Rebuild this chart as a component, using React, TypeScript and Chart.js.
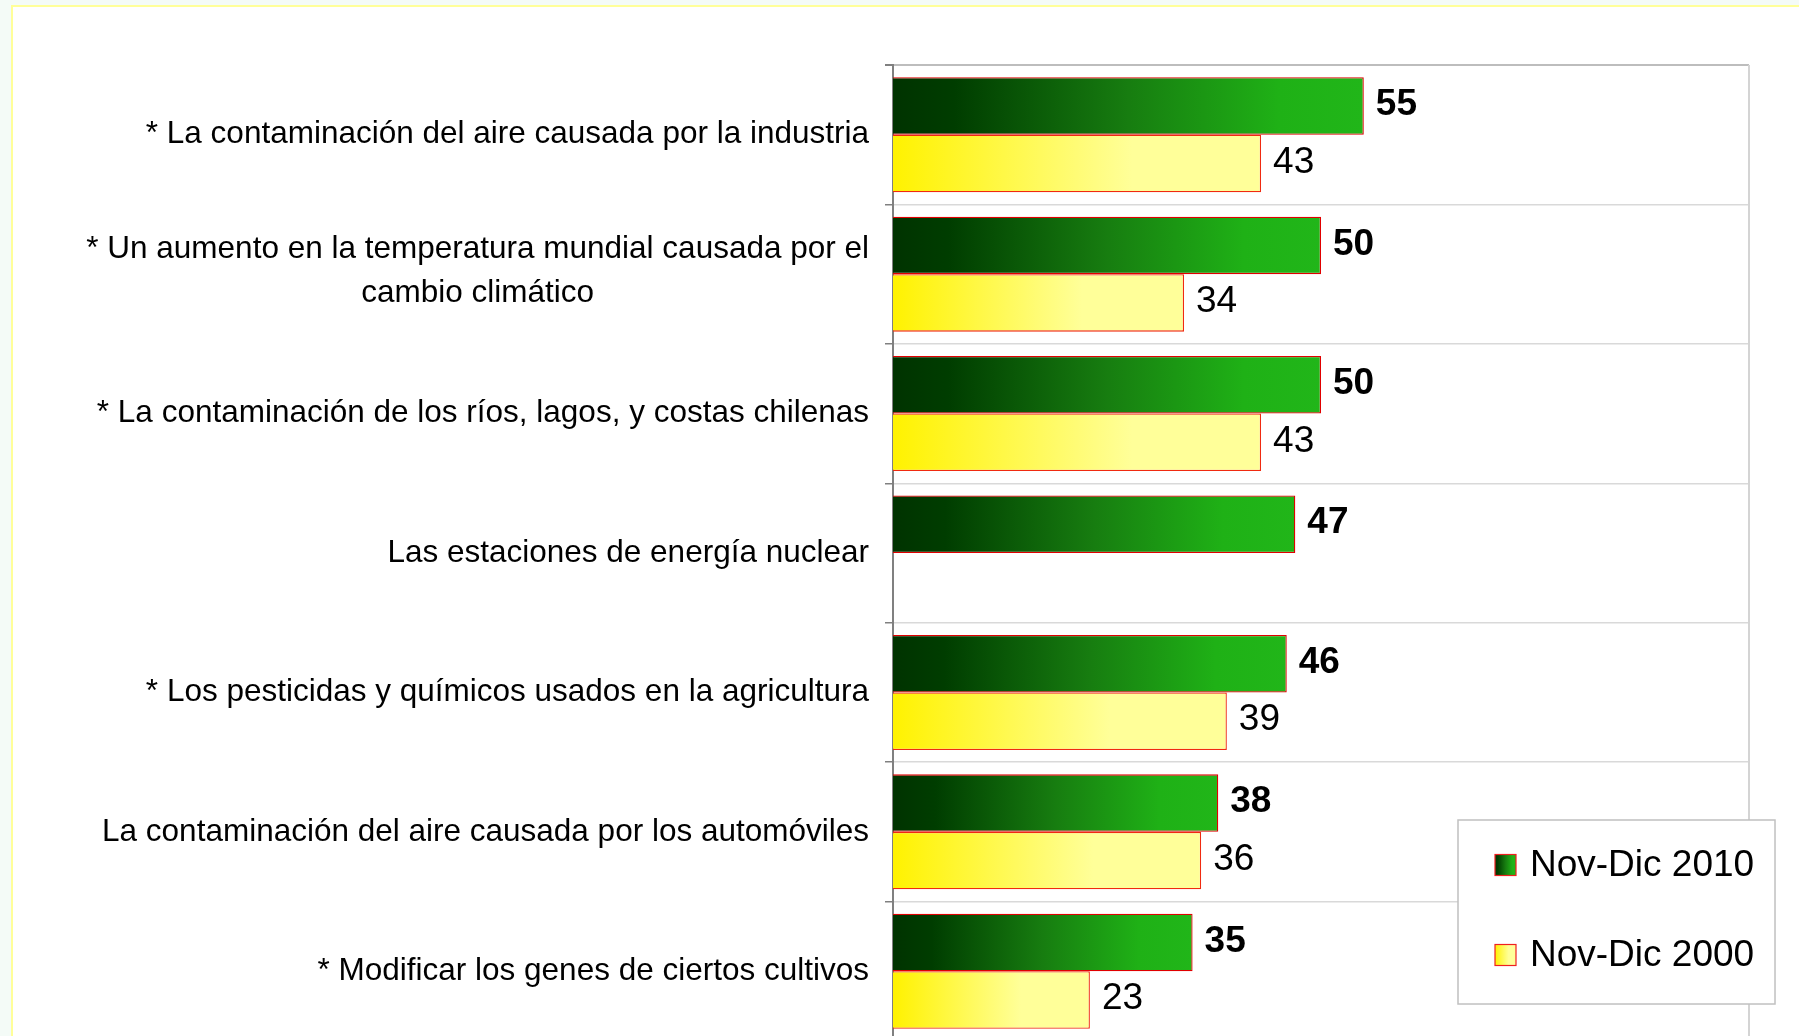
import React, { useEffect, useRef } from "react";
import { Chart, registerables } from "chart.js";

Chart.register(...registerables);

const categories: string[][] = [
  ["* La contaminación del aire causada por la industria"],
  ["* Un aumento en la temperatura mundial causada por el", "cambio climático"],
  ["* La contaminación de los ríos, lagos, y costas chilenas"],
  ["Las estaciones de energía nuclear"],
  ["* Los pesticidas y químicos usados en la agricultura"],
  ["La contaminación del aire causada por los automóviles"],
  ["* Modificar los genes de ciertos cultivos"],
];
const seriesNames = ["Nov-Dic 2010", "Nov-Dic 2000"];
const values2010: (number | null)[] = [55, 50, 50, 47, 46, 38, 35];
const values2000: (number | null)[] = [43, 34, 43, null, 39, 36, 23];
const xMin = 0;
const xMax = 100;

const FONT = '"Liberation Sans", Arial, Helvetica, sans-serif';

function greenGradient(ctx: CanvasRenderingContext2D, x0: number, x1: number) {
  const g = ctx.createLinearGradient(x0, 0, Math.max(x1, x0 + 1), 0);
  g.addColorStop(0, "#003300");
  g.addColorStop(0.13, "#003d00");
  g.addColorStop(0.5, "#177d10");
  g.addColorStop(0.82, "#1fb116");
  g.addColorStop(1, "#21b619");
  return g;
}
function yellowGradient(ctx: CanvasRenderingContext2D, x0: number, x1: number) {
  const g = ctx.createLinearGradient(x0, 0, Math.max(x1, x0 + 1), 0);
  g.addColorStop(0, "#fff200");
  g.addColorStop(0.65, "#ffff99");
  g.addColorStop(1, "#ffff99");
  return g;
}

function barFill(kind: "g" | "y") {
  return (c: any) => {
    const chart = c.chart;
    const fallback = kind === "g" ? "#108010" : "#ffff66";
    const xs = chart.scales && chart.scales.x;
    if (!xs || c.type !== "data" || c.raw == null) return fallback;
    const x0 = xs.getPixelForValue(0);
    const x1 = xs.getPixelForValue(c.raw);
    if (!isFinite(x0) || !isFinite(x1)) return fallback;
    return kind === "g" ? greenGradient(chart.ctx, x0, x1) : yellowGradient(chart.ctx, x0, x1);
  };
}

const customPlugin = {
  id: "custom",
  beforeDraw(chart: any) {
    const ctx = chart.ctx as CanvasRenderingContext2D;
    ctx.save();
    ctx.fillStyle = "#f4fbf7";
    ctx.fillRect(0, 0, chart.width, chart.height);
    ctx.fillStyle = "#ffff99";
    ctx.fillRect(11, 5, chart.width, chart.height);
    ctx.fillStyle = "#ffffff";
    ctx.fillRect(13, 7, chart.width, chart.height);
    ctx.restore();
  },
  afterDraw(chart: any) {
    const ctx = chart.ctx as CanvasRenderingContext2D;
    const area = chart.chartArea;
    const ys = chart.scales.y;
    ctx.save();
    // right border
    ctx.strokeStyle = "#d4d4d4";
    ctx.lineWidth = 2;
    ctx.beginPath();
    ctx.moveTo(area.right, area.top);
    ctx.lineTo(area.right, area.bottom);
    ctx.stroke();

    // category labels
    ctx.fillStyle = "#000";
    ctx.font = `31.5px ${FONT}`;
    ctx.textBaseline = "middle";
    const rightX = 869;
    categories.forEach((lines, i) => {
      const cy = ys.getPixelForValue(i);
      if (lines.length === 1) {
        ctx.textAlign = "right";
        ctx.fillText(lines[0], rightX, cy);
      } else {
        const w = Math.max(...lines.map((l) => ctx.measureText(l).width));
        const cx = rightX - w / 2;
        ctx.textAlign = "center";
        const lh = 43.6;
        const start = cy - 3 - ((lines.length - 1) * lh) / 2;
        lines.forEach((l, k) => ctx.fillText(l, cx, start + k * lh));
      }
    });

    // value labels
    chart.data.datasets.forEach((ds: any, di: number) => {
      const meta = chart.getDatasetMeta(di);
      ctx.font = `${di === 0 ? "bold " : ""}37px ${FONT}`;
      ctx.textAlign = "left";
      ctx.textBaseline = "middle";
      meta.data.forEach((el: any, i: number) => {
        const v = ds.data[i];
        if (v == null) return;
        ctx.fillText(String(v), el.x + 12, el.y - 1);
      });
    });

    // legend
    const lx = 1458, ly = 820, lw = 317, lh = 184;
    ctx.fillStyle = "#ffffff";
    ctx.fillRect(lx, ly, lw, lh);
    ctx.strokeStyle = "#c0c0c0";
    ctx.lineWidth = 1.5;
    ctx.strokeRect(lx, ly, lw, lh);
    const items = [
      { name: seriesNames[0], y: 865, grad: greenGradient },
      { name: seriesNames[1], y: 955, grad: yellowGradient },
    ];
    items.forEach((it) => {
      const bx = 1495, bs = 21;
      const by = it.y - bs / 2;
      ctx.fillStyle = it.grad(ctx, bx, bx + bs);
      ctx.fillRect(bx, by, bs, bs);
      ctx.strokeStyle = "#ee2020";
      ctx.lineWidth = 1.2;
      ctx.strokeRect(bx, by, bs, bs);
      ctx.fillStyle = "#000";
      ctx.font = `37px ${FONT}`;
      ctx.textAlign = "left";
      ctx.textBaseline = "middle";
      ctx.fillText(it.name, 1530, it.y + 1);
    });
    ctx.restore();
  },
};

export default function App() {
  const ref = useRef<HTMLCanvasElement | null>(null);
  useEffect(() => {
    if (!ref.current) return;
    const chart = new Chart(ref.current, {
      type: "bar",
      data: {
        labels: categories.map((c) => c.join(" ")),
        datasets: [
          {
            label: seriesNames[0],
            data: values2010,
            backgroundColor: barFill("g") as any,
            borderColor: "#e00000",
            borderWidth: 1.3,
            categoryPercentage: 0.825,
            barPercentage: 1,
          },
          {
            label: seriesNames[1],
            data: values2000,
            backgroundColor: barFill("y") as any,
            borderColor: "#f02a10",
            borderWidth: 1.3,
            categoryPercentage: 0.825,
            barPercentage: 1,
          },
        ],
      },
      options: {
        indexAxis: "y",
        responsive: false,
        animation: false,
        devicePixelRatio: 1,
        layout: { padding: { left: 0, right: 50, top: 65, bottom: 1 } },
        plugins: { legend: { display: false }, tooltip: { enabled: false }, title: { display: false } },
        scales: {
          x: {
            display: false,
            min: xMin,
            max: xMax,
          },
          y: {
            position: "left",
            ticks: { display: false },
            grid: {
              offset: true,
              color: (c: any) => (c.index === 0 ? "#bdbdbd" : "#d9d9d9"),
              lineWidth: (c: any) => (c.index === 0 ? 2 : 1.5),
              tickColor: "#808080",
              tickLength: 8,
              drawTicks: true,
            },
            border: { display: true, color: "#808080", width: 2 },
            afterFit: (scale: any) => {
              scale.width = 893;
            },
          },
        },
      },
      plugins: [customPlugin],
    });
    return () => chart.destroy();
  }, []);
  return (
    <div style={{ position: "absolute", left: 0, top: 0, width: 1799, height: 1036, overflow: "hidden" }}>
      <canvas ref={ref} width={1799} height={1042} style={{ display: "block", width: 1799, height: 1042 }} />
    </div>
  );
}
